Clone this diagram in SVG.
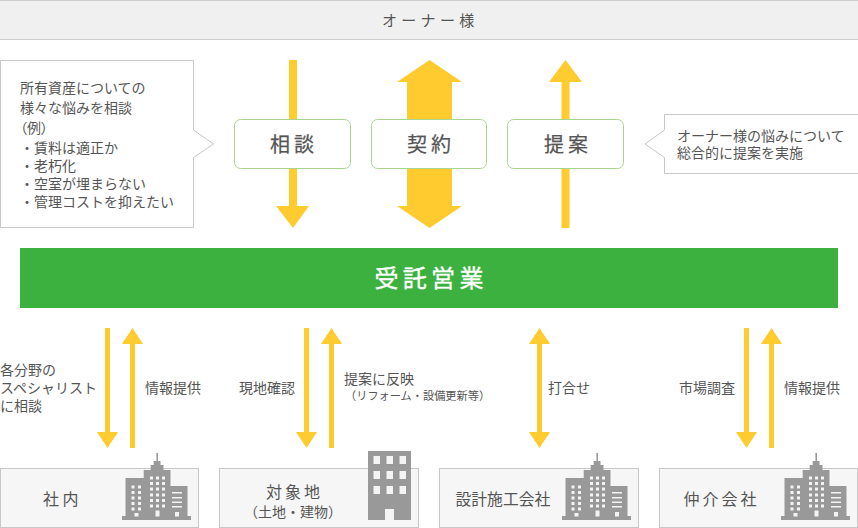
<svg xmlns="http://www.w3.org/2000/svg" xmlns:xlink="http://www.w3.org/1999/xlink" width="858" height="528" viewBox="0 0 858 528">
<style>
text{font-family:"Noto Sans CJK JP","Noto Sans",sans-serif;font-size:14px;fill:#555}
.box{fill:#f6f6f6;stroke:#c8c8c8;stroke-width:1}
.top{fill:#f0f0f0;stroke:#cfcfcf;stroke-width:1}
.bubble{fill:#fff;stroke:#c8c8c8;stroke-width:1}
.node{fill:#fff;stroke:#a9d68e;stroke-width:1}
.arrow{fill:#ffcb2e}
.icon{fill:#999}
.win{fill:#f4f4f4}
.big{font-size:20px;letter-spacing:4px;stroke:#555;stroke-width:.25px}
</style>
<defs>
<polygon id="down" points="-2.500,0 2.500,0 2.500,104 10.500,104 0,120 -10.500,104 -2.500,104"/>
<polygon id="up" points="0,0 10.500,16 2.500,16 2.500,120 -2.500,120 -2.500,16 -10.500,16"/>
<g id="bldg">
<path class="icon" d="M156.300 453h1.700v8h2.500v4h3v5h7v16h17v30h3.500v4H122v-4h3.500v-38h18.200v-8h7v-5h3v-4h2.800z"/>
<g class="win">
<path d="M131.500 485.500h3v3h-3zM138 485.500h3v3h-3zM131.500 491h3v3h-3zM138 491h3v3h-3zM131.500 496.500h3v3h-3zM138 496.500h3v3h-3zM131.500 502h3v3h-3zM138 502h3v3h-3zM131.500 507.500h3v3h-3zM138 507.500h3v3h-3z"/>
<path d="M150 476.500h3v3h-3zM156 476.500h3v3h-3zM162 476.500h3v3h-3zM150 482h3v3h-3zM156 482h3v3h-3zM162 482h3v3h-3zM150 487.500h3v3h-3zM156 487.500h3v3h-3zM162 487.500h3v3h-3zM150 493.500h3v3h-3zM156 493.500h3v3h-3zM162 493.500h3v3h-3zM150 499h3v3h-3zM156 499h3v3h-3zM162 499h3v3h-3zM150 504.500h3v3h-3zM156 504.500h3v3h-3zM162 504.500h3v3h-3z"/>
<path d="M172 492h10v1.500h-10zM172 497h10v1.500h-10zM172 501.500h10v1.500h-10zM172 506h10v1.500h-10z"/>
<path d="M134.500 513h4v3.500h-4zM155.500 510.500h4v6h-4zM175 512h4v4.500h-4z"/>
</g>
</g>
</defs>

<g id="connectors">
<polygon class="arrow" points="289,60 297,60 297,206 309,206 293,228 276,206 289,206"/>
<polygon class="arrow" points="429.500,60 462,82 452,82 452,206 462,206 429.500,228 397,206 407,206 407,82 397,82"/>
<polygon class="arrow" points="565.500,60 582,82 569.500,82 569.500,228 561.500,228 561.500,82 549,82"/>
<use class="arrow" xlink:href="#down" x="107.500" y="328"/>
<use class="arrow" xlink:href="#up" x="132.500" y="328"/>
<use class="arrow" xlink:href="#down" x="306.500" y="328"/>
<use class="arrow" xlink:href="#up" x="331.500" y="328"/>
<polygon class="arrow" points="539.500,328 550,344 542,344 542,432 550,432 539.500,448 529,432 537,432 537,344 529,344"/>
<use class="arrow" xlink:href="#down" x="746.500" y="328"/>
<use class="arrow" xlink:href="#up" x="771.500" y="328"/>
</g>

<g id="owner">
<rect class="top" x="-1" y="0.500" width="860" height="39"/>
<text x="382" y="25.500" style="font-size:15px" letter-spacing="4.300">オーナー様</text>
</g>

<g id="note-left">
<path class="bubble" d="M0.500 60.500H193.500V130L213.500 144 193.500 157.500V227.500H0.500Z"/>
<text x="20" y="93">所有資産についての</text>
<text x="20" y="113">様々な悩みを相談</text>
<text x="20" y="133" style="font-feature-settings:'palt'">（例）</text>
<text x="20" y="153">・賃料は適正か</text>
<text x="20" y="171">・老朽化</text>
<text x="20" y="189">・空室が埋まらない</text>
<text x="20" y="207">・管理コストを抑えたい</text>
</g>

<g id="note-right">
<path class="bubble" d="M664.500 114.500H859V173.500H664.500V157.500L645 144 664.500 130Z"/>
<text x="677" y="141">オーナー様の悩みについて</text>
<text x="677" y="158">総合的に提案を実施</text>
</g>

<g id="node-soudan">
<rect class="node" x="234.500" y="119.500" width="116" height="49" rx="6"/>
<text class="big" x="270" y="152">相談</text>
</g>
<g id="node-keiyaku">
<rect class="node" x="371.500" y="119.500" width="115" height="49" rx="6"/>
<text class="big" x="407" y="152">契約</text>
</g>
<g id="node-teian">
<rect class="node" x="507.500" y="119.500" width="116" height="49" rx="6"/>
<text class="big" x="544" y="152">提案</text>
</g>

<g id="main">
<rect x="20" y="248" width="818" height="60" fill="#3cb13f"/>
<text x="374.500" y="287" style="font-size:24px;letter-spacing:4.300px;fill:#fff;stroke:#fff;stroke-width:.35px">受託営業</text>
</g>

<g id="labels">
<text x="0" y="375">各分野の</text>
<text x="0" y="393">スペシャリスト</text>
<text x="0" y="411">に相談</text>
<text x="145" y="393">情報提供</text>
<text x="239" y="393">現地確認</text>
<text x="344" y="384">提案に反映</text>
<text x="345" y="400" style="font-size:11.200px">（リフォーム・設備更新等）</text>
<text x="548" y="393">打合せ</text>
<text x="679" y="393">市場調査</text>
<text x="784" y="393">情報提供</text>
</g>

<g id="node-shanai">
<rect class="box" x="0.500" y="468.500" width="198" height="59"/>
<use xlink:href="#bldg"/>
<text x="43" y="505" style="font-size:16px" letter-spacing="3.500">社内</text>
</g>
<g id="node-taishochi">
<rect class="box" x="219.500" y="468.500" width="199" height="59"/>
<rect class="icon" x="368" y="451" width="43" height="69"/>
<path class="win" d="M373.500 456h6.500v8h-6.500zM386.500 456h6.500v8h-6.500zM399.500 456h6.500v8h-6.500zM373.500 471h6.500v8h-6.500zM386.500 471h6.500v8h-6.500zM399.500 471h6.500v8h-6.500zM373.500 486h6.500v8h-6.500zM386.500 486h6.500v8h-6.500zM399.500 486h6.500v8h-6.500zM385 509h9v11h-9z"/>
<text x="266" y="498" style="font-size:16px" letter-spacing="3">対象地</text>
<text x="244" y="517">（土地・建物）</text>
</g>
<g id="node-sekkei">
<rect class="box" x="439.500" y="468.500" width="199" height="59"/>
<use xlink:href="#bldg" x="440"/>
<text x="455.500" y="505" style="font-size:15.800px">設計施工会社</text>
</g>
<g id="node-chukai">
<rect class="box" x="659.500" y="468.500" width="198" height="59"/>
<use xlink:href="#bldg" x="659"/>
<text x="683.500" y="505" style="font-size:16px" letter-spacing="3">仲介会社</text>
</g>
</svg>
